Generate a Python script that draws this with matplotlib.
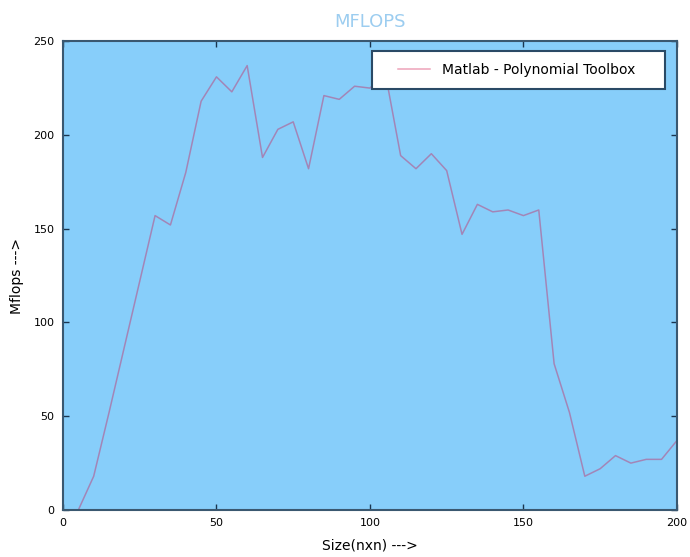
import matplotlib
matplotlib.use("Agg")
import matplotlib.pyplot as plt
from matplotlib.patches import Rectangle

# matrix size n (n x n) and measured throughput
sizes = [5, 10, 15, 20, 25, 30, 35, 40, 45, 50, 55, 60, 65, 70, 75, 80, 85, 90, 95, 100,
         105, 110, 115, 120, 125, 130, 135, 140, 145, 150, 155, 160, 165, 170, 175, 180,
         185, 190, 195, 200]
mflops = [0, 18, 52, 87, 122, 157, 152, 180, 218, 231, 223, 237, 188, 203, 207, 182, 221, 219, 226, 225,
          233, 189, 182, 190, 181, 147, 163, 159, 160, 157, 160, 78, 52, 18, 22, 29,
          25, 27, 27, 37]

fig = plt.figure(figsize=(6.9, 5.57), dpi=100)
ax = fig.add_axes([0.0913, 0.0844, 0.8897, 0.8416])
ax.set_facecolor("#87cefa")

ax.plot(sizes, mflops, color="#d0104a", alpha=0.38, lw=1.1, label="Matlab - Polynomial Toolbox")

ax.set_xlim(0, 200)
ax.set_ylim(0, 250)
ax.set_xticks([0, 50, 100, 150, 200])
ax.set_yticks([0, 50, 100, 150, 200, 250])
ax.tick_params(direction="in", top=True, right=True, length=4, width=1,
               color="#1a3550", labelsize=8, pad=6)
for s in ax.spines.values():
    s.set_color("#3a5870")
    s.set_linewidth(1.5)

ax.set_xlabel("Size(nxn) --->", fontsize=10, labelpad=7)
ax.set_ylabel("Mflops --->", fontsize=10, labelpad=7)
ax.set_title("MFLOPS", fontsize=13, color="#9ccdf0", pad=10)

# legend box drawn separately so it gets wider side margins
ax.add_patch(Rectangle((0.503, 0.898), 0.477, 0.081, transform=ax.transAxes,
                       facecolor="white", edgecolor="#2a4a66", lw=1.5, zorder=4))
leg = ax.legend(loc="center left", bbox_to_anchor=(0.5456, 0.9385), fontsize=10,
                frameon=False, borderpad=0, borderaxespad=0,
                handlelength=2.3, handletextpad=0.9)
leg.set_zorder(5)

fig.savefig("out.png", dpi=100)
